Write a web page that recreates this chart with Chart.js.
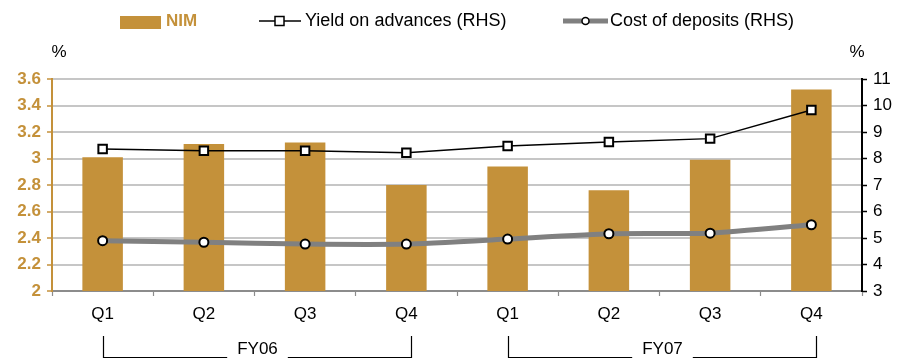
<!DOCTYPE html>
<html>
<head>
<meta charset="utf-8">
<script src="https://cdn.jsdelivr.net/npm/chart.js@4.4.1/dist/chart.umd.min.js"></script>
<style>
  html, body { margin: 0; padding: 0; background: #ffffff; }
  #wrap { width: 905px; height: 360px; }
</style>
</head>
<body>
<div id="wrap"><canvas id="c" width="905" height="360"></canvas></div>
<script>
// Quarterly margin data
const quarters = ['Q1', 'Q2', 'Q3', 'Q4', 'Q1', 'Q2', 'Q3', 'Q4'];
const fiscalYears = ['FY06', 'FY07'];
const nim = [3.01, 3.11, 3.12, 2.80, 2.94, 2.76, 2.99, 3.52];
const yieldOnAdvances = [8.36, 8.29, 8.29, 8.22, 8.47, 8.62, 8.75, 9.83];
const costOfDeposits = [4.90, 4.84, 4.77, 4.77, 4.96, 5.16, 5.18, 5.50];

const GOLD = '#c4913a';
const GREY_LINE = '#808080';
const FONT = '"Liberation Sans", Arial, sans-serif';

// Legend, unit labels and fiscal-year brackets
const decorations = {
  id: 'decorations',
  afterDraw(chart) {
    const ctx = chart.ctx;
    const ds = chart.data.datasets;
    const x = chart.scales.x;
    ctx.save();
    ctx.textBaseline = 'middle';
    const ly = 21;

    // NIM swatch
    ctx.fillStyle = GOLD;
    ctx.fillRect(120, 16, 41, 13);
    ctx.font = 'bold 17px ' + FONT;
    ctx.fillStyle = GOLD;
    ctx.textAlign = 'left';
    ctx.fillText(ds[0].label, 166, ly);

    // Yield swatch
    ctx.strokeStyle = '#000';
    ctx.lineWidth = 1.5;
    ctx.beginPath(); ctx.moveTo(259, ly); ctx.lineTo(301, ly); ctx.stroke();
    ctx.fillStyle = '#fff';
    ctx.fillRect(275, ly - 4.5, 9, 9);
    ctx.strokeRect(275, ly - 4.5, 9, 9);
    ctx.font = '18px ' + FONT;
    ctx.fillStyle = '#000';
    ctx.fillText(ds[1].label, 305, ly);

    // Cost swatch
    ctx.strokeStyle = GREY_LINE;
    ctx.lineWidth = 5;
    ctx.beginPath(); ctx.moveTo(563, ly); ctx.lineTo(608, ly); ctx.stroke();
    ctx.beginPath(); ctx.arc(585.5, ly, 3.5, 0, Math.PI * 2);
    ctx.fillStyle = '#fff'; ctx.fill();
    ctx.strokeStyle = '#000'; ctx.lineWidth = 1.5; ctx.stroke();
    ctx.fillStyle = '#000';
    ctx.fillText(ds[2].label, 610, ly);

    // Unit labels
    ctx.font = '17px ' + FONT;
    ctx.textAlign = 'center';
    ctx.fillText('%', 59, 52);
    ctx.fillText('%', 857, 52);

    // Fiscal-year brackets
    ctx.strokeStyle = '#000';
    ctx.lineWidth = 1.2;
    fiscalYears.forEach((fy, i) => {
      const l = Math.round(x.getPixelForValue(i * 4)) + 0.5;
      const r = Math.round(x.getPixelForValue(i * 4 + 3)) + 5.5;
      const mid = (l + r) / 2;
      const top = 336, bot = 357.5;
      const tw = ctx.measureText(fy).width;
      const gap = 10;
      ctx.beginPath();
      ctx.moveTo(l, top); ctx.lineTo(l, bot); ctx.lineTo(mid - tw / 2 - gap, bot);
      ctx.moveTo(mid + tw / 2 + gap, bot); ctx.lineTo(r, bot); ctx.lineTo(r, top);
      ctx.stroke();
      ctx.fillStyle = '#000';
      ctx.fillText(fy, mid, 349.5);
    });
    ctx.restore();
  }
};

new Chart(document.getElementById('c'), {
  type: 'bar',
  data: {
    labels: quarters,
    datasets: [
      {
        type: 'bar',
        label: 'NIM',
        data: nim,
        yAxisID: 'y',
        backgroundColor: GOLD,
        borderWidth: 0,
        categoryPercentage: 1,
        barPercentage: 0.4,
        order: 3
      },
      {
        type: 'line',
        label: 'Yield on advances (RHS)',
        data: yieldOnAdvances,
        yAxisID: 'y1',
        borderColor: '#000',
        borderWidth: 1.5,
        tension: 0,
        pointStyle: 'rect',
        pointRadius: 6,
        pointBackgroundColor: '#fff',
        pointBorderColor: '#000',
        pointBorderWidth: 2,
        order: 1
      },
      {
        type: 'line',
        label: 'Cost of deposits (RHS)',
        data: costOfDeposits,
        yAxisID: 'y1',
        borderColor: GREY_LINE,
        borderWidth: 5,
        tension: 0.15,
        pointStyle: 'circle',
        pointRadius: 4.5,
        pointBackgroundColor: '#fff',
        pointBorderColor: '#000',
        pointBorderWidth: 2,
        order: 2
      }
    ]
  },
  options: {
    responsive: false,
    animation: false,
    devicePixelRatio: 1,
    layout: { padding: { top: 79, left: 0, right: 0, bottom: 0 } },
    plugins: { legend: { display: false }, tooltip: { enabled: false } },
    scales: {
      x: {
        offset: true,
        grid: {
          offset: true,
          drawOnChartArea: false,
          drawTicks: true,
          tickLength: 5,
          tickColor: '#8c8c8c',
          tickWidth: 1.2
        },
        border: { color: '#8c8c8c', width: 2 },
        ticks: { color: '#000', font: { family: FONT, size: 17 }, padding: 8, maxRotation: 0 },
        afterFit(s) { s.height = 69; }
      },
      y: {
        position: 'left',
        min: 2,
        max: 3.6,
        grid: {
          color: '#c6c6c6',
          lineWidth: 2,
          drawTicks: true,
          tickLength: 5,
          tickColor: GOLD,
          tickWidth: 1.5
        },
        border: { color: GOLD, width: 2 },
        ticks: {
          stepSize: 0.2,
          color: GOLD,
          font: { family: FONT, size: 17, weight: 'bold' },
          padding: 6,
          callback: v => String(parseFloat(v.toFixed(1)))
        },
        afterFit(s) { s.width = 52; }
      },
      y1: {
        position: 'right',
        min: 3,
        max: 11,
        grid: {
          drawOnChartArea: false,
          drawTicks: true,
          tickLength: 5,
          tickColor: '#000',
          tickWidth: 1.5
        },
        border: { color: '#000', width: 2 },
        ticks: {
          stepSize: 1,
          color: '#000',
          font: { family: FONT, size: 17 },
          padding: 6
        },
        afterFit(s) { s.width = 43; }
      }
    }
  },
  plugins: [decorations]
});
</script>
</body>
</html>
